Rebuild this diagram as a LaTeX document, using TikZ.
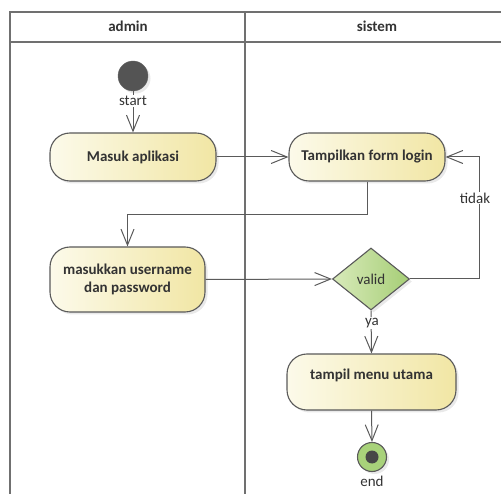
\documentclass[tikz,border=0pt]{standalone}
\usepackage{fontspec}
\setmainfont{Carlito}
\usetikzlibrary{arrows.meta,shapes.geometric,shadows,shadings}
\definecolor{lanegray}{HTML}{707070}
\definecolor{linegray}{HTML}{5A5A5A}
\definecolor{txt}{HTML}{333333}
\definecolor{actL}{HTML}{FCFAEA}
\definecolor{actR}{HTML}{F1E6A4}
\definecolor{decL}{HTML}{D8EABA}
\definecolor{decR}{HTML}{A6CE76}
\definecolor{endgreen}{HTML}{A8D27A}
\tikzset{
  lane/.style={draw=lanegray, line width=1.8pt},
  softshadow/.style={drop shadow={shadow xshift=2.5pt, shadow yshift=-2.5pt, fill=black!25, opacity=.35}},
  action/.style={rectangle, rounded corners=20pt, draw=linegray, line width=1.1pt,
    left color=actL, right color=actR, text=txt, align=center,
    font=\fontsize{15}{18}\selectfont\bfseries, softshadow},
  decision/.style={diamond, draw=linegray, line width=1.1pt, left color=decL, right color=decR,
    text=txt, font=\fontsize{15}{18}\selectfont, inner sep=0pt, aspect=1.24, softshadow},
  flow/.style={draw=linegray, line width=1pt, -{Straight Barb[length=16pt,width=13pt]}},
  lbl/.style={text=txt, font=\fontsize{15}{18}\selectfont, inner sep=1pt},
  head/.style={text=txt, font=\fontsize{15}{18}\selectfont\bfseries},
}
\begin{document}
\begin{tikzpicture}[x=1pt,y=-1pt]
\useasboundingbox (0,0) rectangle (501,494);

% swimlane frame
\draw[lane] (10,494) -- (10,12) -- (501,12);
\draw[lane] (10,42) -- (501,42);
\draw[lane] (245,12) -- (245,494);
\node[head] (hadmin) at (128,26) {admin};
\node[head] (hsistem) at (377,26) {sistem};

% initial node
\node[circle, fill=black!67, draw=black!60, minimum size=30pt, inner sep=0pt, softshadow] (startn) at (133,76) {};

% actions
\node[action, minimum width=166pt, minimum height=48pt] (masuk) at (133,157) {Masuk aplikasi};
\node[action, minimum width=156pt, minimum height=48pt] (tampil) at (367,157) {Tampilkan form login};
\node[action, minimum width=155pt, minimum height=65pt] (masukkan) at (127.5,279.5) {masukkan username\\dan password};
\node[decision, minimum width=77pt, minimum height=62pt] (valid) at (371,279) {valid};
\node[action, minimum width=169pt, minimum height=56pt,
  label={[text=txt, font=\fontsize{15}{18}\selectfont\bfseries, yshift=7pt]center:tampil menu utama}] (menu) at (371.5,382) {};

% final node
\node[circle, draw=linegray, line width=1.1pt, fill=endgreen, minimum size=29pt, inner sep=0pt, softshadow] (endn) at (372,457) {};
\node[circle, fill=black!72, minimum size=13pt, inner sep=0pt] (endc) at (endn.center) {};

% flows
\draw[flow] (startn) -- (masuk);
\draw[flow] (masuk) -- (tampil);
\draw[flow] (tampil.south) -- ++(0,33) -| (masukkan.north);
\draw[flow] (masukkan.east) -- (valid.west);
\coordinate (loopc) at (479,157);
\draw[flow] (valid.east) -| (loopc) -- (tampil.east);
\draw[flow] (valid.south) -- (menu.north);
\draw[flow] (menu.south) -- (endn.north);

% guard and node labels
\node[lbl, fill=white] (lstart) at (133,101) {start};
\node[lbl, fill=white] (ltidak) at (475,198) {tidak};
\node[lbl, fill=white] (lya) at (372,323) {ya};
\node[lbl] (lend) at (372,481) {end};
\end{tikzpicture}
\end{document}
